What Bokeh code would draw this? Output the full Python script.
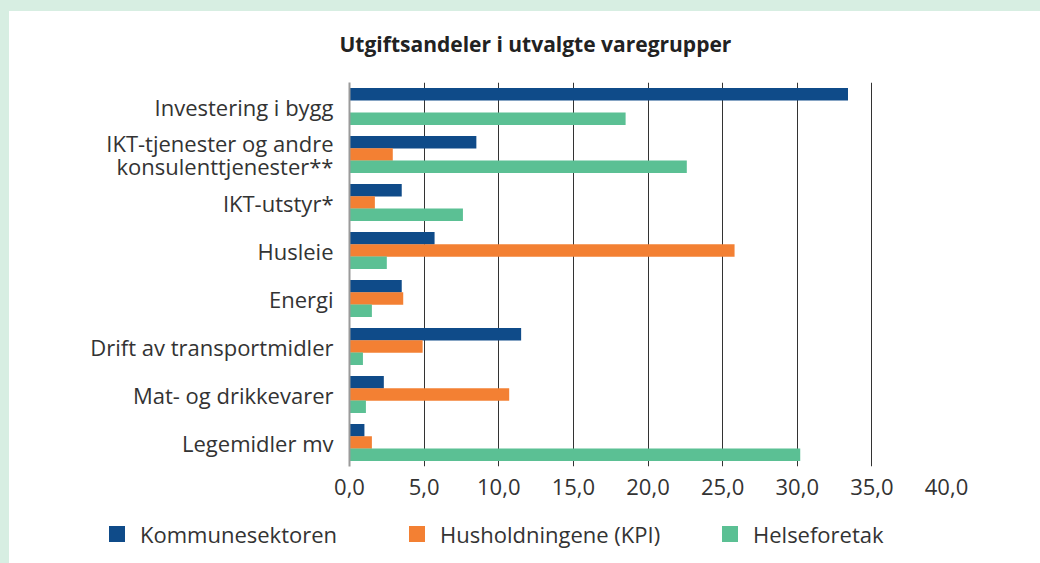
from bokeh.plotting import figure
from bokeh.models import (ColumnDataSource, FactorRange, Range1d, FixedTicker, Div)
from bokeh.layouts import column
from bokeh.transform import dodge
from bokeh.embed import file_html
from bokeh.resources import INLINE

# ---- data (top to bottom as in the reference) ----
categories = ["Investering i bygg",
              "IKT-tjenester og andre\nkonsulenttjenester**",
              "IKT-utstyr*",
              "Husleie",
              "Energi",
              "Drift av transportmidler",
              "Mat- og drikkevarer",
              "Legemidler mv"]
kommunesektoren = [33.4, 8.5, 3.5, 5.7, 3.5, 11.5, 2.3, 1.0]
husholdningene = [0.0, 2.9, 1.7, 25.8, 3.6, 4.9, 10.7, 1.5]
helseforetak = [18.5, 22.6, 7.6, 2.5, 1.5, 0.9, 1.1, 30.2]
series_names = ["Kommunesektoren", "Husholdningene (KPI)", "Helseforetak"]
x_ticks = [0, 5, 10, 15, 20, 25, 30, 35, 40]
x_tick_labels = ["0,0", "5,0", "10,0", "15,0", "20,0", "25,0", "30,0", "35,0", "40,0"]
title_text = "Utgiftsandeler i utvalgte varegrupper"

colors = ["#0F4B89", "#F38033", "#5BC094"]
FRAME_GREEN = "#D7EEE2"
FONT = "Open Sans"
TEXT = "#333333"
FS = "22px"

src = ColumnDataSource(dict(cat=categories, k=kommunesektoren,
                            h=husholdningene, f=helseforetak))

p = figure(width=1024, height=512, output_backend="svg", toolbar_location=None,
           x_range=Range1d(0, 40), y_range=FactorRange(*categories[::-1]),
           min_border_left=349, min_border_right=78, min_border_top=82,
           min_border_bottom=46)

p.title.text = title_text
p.title.align = "left"
p.title.offset = -10
p.title.text_font = FONT
p.title.text_font_size = "21px"
p.title.text_font_style = "bold"
p.title.text_color = "#222222"
p.title.standoff = 49

bh = 0.265
r1 = p.hbar(y=dodge("cat", 0.255, range=p.y_range), right="k", left=0, height=bh,
            source=src, fill_color=colors[0], line_color=None)
r2 = p.hbar(y=dodge("cat", 0.0, range=p.y_range), right="h", left=0, height=bh,
            source=src, fill_color=colors[1], line_color=None)
r3 = p.hbar(y=dodge("cat", -0.255, range=p.y_range), right="f", left=0, height=bh,
            source=src, fill_color=colors[2], line_color=None)

p.outline_line_color = None
p.ygrid.grid_line_color = None
p.xgrid.grid_line_color = "#333333"
p.xgrid.grid_line_width = 1
p.xgrid.ticker = FixedTicker(ticks=x_ticks[1:])

xa = p.xaxis[0]
xa.ticker = FixedTicker(ticks=x_ticks)
xa.major_label_overrides = {t: l for t, l in zip(x_ticks, x_tick_labels)}
xa.axis_line_color = None
xa.major_tick_line_color = None
xa.minor_tick_line_color = None
xa.major_label_standoff = 6
xa.major_label_text_font = FONT
xa.major_label_text_font_size = FS
xa.major_label_text_color = TEXT

ya = p.yaxis[0]
ya.axis_line_color = "#9a9a9a"
ya.axis_line_width = 2
ya.major_tick_line_color = None
ya.minor_tick_line_color = None
ya.major_label_standoff = 10
ya.major_label_text_font = FONT
ya.major_label_text_font_size = FS
ya.major_label_text_color = TEXT
ya.major_label_text_line_height = 0.77

# ---- legend strip below the chart (plus the light green page frame) ----
swatch_left = [104, 404, 717]
parts = []
for name, col, sx in zip(series_names, colors, swatch_left):
    parts.append(
        f'<span style="position:absolute;left:{sx}px;top:9px;width:16px;'
        f'height:16px;background:{col};"></span>'
        f'<span style="position:absolute;left:{sx + 31}px;top:1px;'
        f'line-height:32px;white-space:nowrap;">{name}</span>')
frame_html = (f'<div style="position:fixed;left:0;top:0;width:1040px;height:11px;'
              f'background:{FRAME_GREEN};z-index:10;"></div>'
              f'<div style="position:fixed;left:0;top:0;width:9px;height:563px;'
              f'background:{FRAME_GREEN};z-index:10;"></div>')
legend_html = (f'<div style="position:relative;width:1024px;height:35px;'
               f"font-family:'{FONT}';font-size:{FS};color:{TEXT};\">"
               + "".join(parts) + frame_html + "</div>")
legend_div = Div(text=legend_html, width=1024, height=35)

layout = column(p, legend_div, spacing=0)
open("out.html", "w").write(file_html(layout, INLINE))
